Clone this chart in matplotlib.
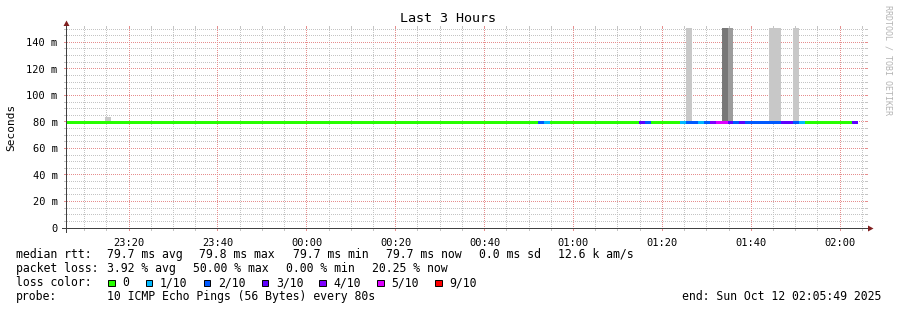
import numpy as np
import matplotlib
matplotlib.use("Agg")
import matplotlib.pyplot as plt
from matplotlib.ticker import FixedLocator, NullLocator
from matplotlib.patches import Polygon, Rectangle
from matplotlib.colors import to_rgba

# ---------------- data ----------------
title = "Last 3 Hours"
y_label = "Seconds"
watermark = "RRDTOOL / TOBI OETIKER"

# time in minutes relative to midnight (23:05:49 .. 02:05:49)
view_start_min = -(54 + 11 / 60)
view_end_min = 125 + 49 / 60
step_minutes = 80 / 60            # 80 s probe interval
first_step_start_min = -41 * step_minutes   # 23:05:20

# packet loss per 80 s step, in tenths (10 pings per step)
loss_tenths = [
    0, 0, 0, 0, 0, 0, 0, 0, 0, 0, 0, 0, 0, 0, 0, 0, 0, 0, 0, 0,
    0, 0, 0, 0, 0, 0, 0, 0, 0, 0, 0, 0, 0, 0, 0, 0, 0, 0, 0, 0,
    0, 0, 0, 0, 0, 0, 0, 0, 0, 0, 0, 0, 0, 0, 0, 0, 0, 0, 0, 0,
    0, 0, 0, 0, 0, 0, 0, 0, 0, 0, 0, 0, 0, 0, 0, 0, 0, 0, 0, 0,
    2, 1, 0, 0, 0, 0, 0, 0, 0, 0, 0, 0, 0, 0, 0, 0, 0, 3, 2, 0,
    0, 0, 0, 0, 1, 2, 2, 1, 2, 4, 5, 5, 3, 2, 3, 2, 2, 2, 2, 2,
    2, 3, 3, 2, 1, 0, 0, 0, 0, 0, 0, 0, 0, 3,
]

# median RTT per step (ms)
median_ms = [
    79.7, 79.7, 79.7, 79.7, 79.7, 79.7, 79.7, 79.7, 79.7, 79.7,
    79.7, 79.7, 79.7, 79.7, 79.7, 79.7, 79.7, 79.7, 79.7, 79.7,
    79.7, 79.7, 79.7, 79.7, 79.7, 79.7, 79.7, 79.7, 79.7, 79.7,
    79.7, 79.7, 79.7, 79.7, 79.7, 79.7, 79.7, 79.7, 79.7, 79.7,
    79.7, 79.7, 79.7, 79.7, 79.7, 79.7, 79.7, 79.7, 79.7, 79.7,
    79.7, 79.7, 79.7, 79.7, 79.7, 79.7, 79.7, 79.7, 79.7, 79.7,
    79.7, 79.7, 79.7, 79.7, 79.7, 79.7, 79.7, 79.7, 79.7, 79.7,
    79.7, 79.7, 79.7, 79.7, 79.7, 79.7, 79.7, 79.7, 79.7, 79.7,
    79.7, 79.7, 79.7, 79.7, 79.7, 79.7, 79.7, 79.7, 79.7, 79.7,
    79.7, 79.7, 79.7, 79.7, 79.7, 79.7, 79.7, 79.7, 79.7, 79.7,
    79.7, 79.7, 79.7, 79.7, 79.7, 79.7, 79.7, 79.7, 79.7, 79.8,
    79.7, 79.7, 79.7, 79.7, 79.7, 79.7, 79.7, 79.7, 79.7, 79.7,
    79.7, 79.7, 79.7, 79.7, 79.7, 79.7, 79.7, 79.7, 79.7, 79.7,
    79.7, 79.7, 79.7, 79.7,
]

# smoke (ping spread) bars: step index, low/high RTT (ms), shade
smoke_steps = [7, 105, 111, 112, 119, 120, 123]
smoke_low_ms = [79.7, 79.7, 79.7, 79.7, 79.7, 79.7, 79.7]
smoke_high_ms = [83.7, 200.0, 200.0, 200.0, 200.0, 200.0, 200.0]
smoke_shades = ["#c8c8c8", "#c8c8c8", "#787878", "#9c9c9c",
                "#c8c8c8", "#c8c8c8", "#c8c8c8"]

x_tick_minutes = [-40, -20, 0, 20, 40, 60, 80, 100, 120]
x_tick_labels = ["23:20", "23:40", "00:00", "00:20", "00:40",
                 "01:00", "01:20", "01:40", "02:00"]
y_tick_values = [0, 20, 40, 60, 80, 100, 120, 140]
y_tick_labels = ["0", "20 m", "40 m", "60 m", "80 m", "100 m", "120 m", "140 m"]

loss_thresholds = [0, 1, 2, 3, 4, 5, 9]
loss_labels = ["0", "1/10", "2/10", "3/10", "4/10", "5/10", "9/10"]
loss_colors = ["#26ff00", "#00b8ff", "#0059ff", "#5e00ff",
               "#7e00ff", "#dd00ff", "#ff0000"]

rtt_head = "median rtt:"
rtt_stats = ["79.7 ms avg", "79.8 ms max", "79.7 ms min",
             "79.7 ms now", "0.0 ms sd", "12.6 k am/s"]
loss_head = "packet loss:"
loss_stats = ["3.92 % avg", "50.00 % max", "0.00 % min", "20.25 % now"]
color_head = "loss color:"
probe_head = "probe:"
probe_text = "10 ICMP Echo Pings (56 Bytes) every 80s"
end_text = "end: Sun Oct 12 02:05:49 2025"

# ---------------- layout ----------------
W, H = 897, 310
X0, XS = 66, 800      # plot origin / width in px
Y0, YS = 228, 200     # plot origin (bottom) / height in px
y_max = 150.8
MONO = "DejaVu Sans Mono"
MINOR_COL = "#c4c4c4"
MAJOR_COL = "#e68e8e"
AXIS_COL = "#404040"
ARROW_COL = "#801f1f"
MINOR_STEP_MIN = 5
MINOR_STEP_MS = 5

fig = plt.figure(figsize=(W / 100, H / 100), dpi=100)
fig.patch.set_facecolor("white")
ax = fig.add_axes([X0 / W, 1 - Y0 / H, XS / W, YS / H])
ax.set_xlim(view_start_min, view_end_min)
ax.set_ylim(0, y_max)
ax.patch.set_alpha(0)
ax.set_zorder(2)
for s in ax.spines.values():
    s.set_visible(False)


def P(x, y):
    return (x / W, 1 - y / H)


ax.xaxis.set_major_locator(FixedLocator(x_tick_minutes))
ax.yaxis.set_major_locator(FixedLocator(y_tick_values))
ax.xaxis.set_minor_locator(NullLocator())
ax.yaxis.set_minor_locator(NullLocator())
ax.set_xticklabels(x_tick_labels)
ax.set_yticklabels(y_tick_labels)
ax.tick_params(length=0)
ax.tick_params(axis="y", pad=6.0, labelsize=7.5)
ax.tick_params(axis="x", pad=7.0, labelsize=7.5)
for lab in ax.get_xticklabels() + ax.get_yticklabels():
    lab.set_family(MONO)
    lab.set_color("black")


# ---- dotted rrdtool-style grid, rasterised pixel-exactly behind the axes ----
def xpix(m):
    return X0 + (m - view_start_min) / (view_end_min - view_start_min) * XS


def ypix(v):
    return Y0 - v / y_max * YS


grid = np.zeros((H, W, 4))


def hline(v, col):
    r = int(np.floor(ypix(v)))
    c = to_rgba(col)
    grid[r, X0 + 1:X0 + XS:2] = c
    grid[r, X0 - 2:X0] = c
    grid[r, X0 + XS:X0 + XS + 2] = c


def vline(m, col):
    cc = int(np.floor(xpix(m)))
    c = to_rgba(col)
    grid[Y0 - YS:Y0:2, cc] = c
    grid[Y0 - YS - 2:Y0 - YS, cc] = c
    grid[Y0 + 1:Y0 + 3, cc] = c


t = np.ceil(view_start_min / MINOR_STEP_MIN) * MINOR_STEP_MIN
while t < view_end_min:
    if t % 20 != 0:
        vline(t, MINOR_COL)
    t += MINOR_STEP_MIN
v = MINOR_STEP_MS
while v < y_max:
    if v % 20 != 0:
        hline(v, MINOR_COL)
    v += MINOR_STEP_MS
for v in y_tick_values[1:]:
    hline(v, MAJOR_COL)
for m in x_tick_minutes:
    vline(m, MAJOR_COL)
fig.figimage(grid, xo=0, yo=0, origin="upper", zorder=1)

# axis lines, on top of the data
axes_img = np.zeros((H, W, 4))
axes_img[Y0, X0 - 4:X0 + XS + 4] = to_rgba(AXIS_COL)
axes_img[Y0 - YS - 4:Y0 + 5, X0] = to_rgba(AXIS_COL)
fig.figimage(axes_img, xo=0, yo=0, origin="upper", zorder=5)
fig.add_artist(Polygon([P(X0 + XS + 2, Y0 - 2.5), P(X0 + XS + 2, Y0 + 3.5), P(X0 + XS + 7.5, Y0 + 0.5)],
                       closed=True, transform=fig.transFigure, color=ARROW_COL, lw=0, zorder=6))
fig.add_artist(Polygon([P(X0 - 2.5, Y0 - YS - 2), P(X0 + 3.5, Y0 - YS - 2), P(X0 + 0.5, Y0 - YS - 7.5)],
                       closed=True, transform=fig.transFigure, color=ARROW_COL, lw=0, zorder=6))

# smoke bars
starts = first_step_start_min + np.arange(len(loss_tenths)) * step_minutes
for idx, lo, hi, shade in zip(smoke_steps, smoke_low_ms, smoke_high_ms, smoke_shades):
    ax.bar(starts[idx], hi - lo, bottom=lo, width=step_minutes, align="edge",
           color=shade, linewidth=0, antialiased=False, zorder=2)


def loss_color(l):
    c = loss_colors[0]
    for th, col in zip(loss_thresholds, loss_colors):
        if l >= th:
            c = col
    return c


band = 3 * y_max / YS
colors = [loss_color(l) for l in loss_tenths]
med = np.array(median_ms)
ax.bar(starts, band, bottom=med - band / 2, width=step_minutes, align="edge",
       color=colors, linewidth=0, antialiased=False, zorder=3)

# title, labels, watermark
fig.text(*P(448, 19), title, ha="center", va="center", family=MONO, fontsize=9.6)
fig.text(*P(11, 127), y_label, ha="center", va="center", rotation=90,
         family=MONO, fontsize=8.0)
fig.text(*P(887.5, 60), watermark, ha="center", va="center", rotation=-90,
         family=MONO, fontsize=6.0, color="#b4b4b4")

# legend / statistics
FS = 8.3
row_y = [254.3, 268.3, 282.7, 296.7]
head_x = 16.0
fig.text(*P(head_x, row_y[0]), rtt_head, va="center", family=MONO, fontsize=FS)
for s, x in zip(rtt_stats, [106.6, 199.3, 292.6, 386.0, 478.6, 557.6]):
    fig.text(*P(x, row_y[0]), s, va="center", family=MONO, fontsize=FS)
fig.text(*P(head_x, row_y[1]), loss_head, va="center", family=MONO, fontsize=FS)
for s, x in zip(loss_stats, [106.6, 192.6, 286.0, 372.0]):
    fig.text(*P(x, row_y[1]), s, va="center", family=MONO, fontsize=FS)
fig.text(*P(head_x, row_y[2]), color_head, va="center", family=MONO, fontsize=FS)
for lab, col, x in zip(loss_labels, loss_colors,
                       [108.3, 145.7, 203.7, 261.7, 319.3, 377.3, 435.3]):
    x0, y0 = P(x, row_y[2] + 3.5)
    fig.add_artist(Rectangle((x0, y0), 6.5 / W, 6.5 / H, transform=fig.transFigure,
                             facecolor=col, edgecolor="black", lw=0.7))
    fig.text(*P(x + 14.3, row_y[2]), lab, va="center", family=MONO, fontsize=FS)
fig.text(*P(head_x, row_y[3]), probe_head, va="center", family=MONO, fontsize=FS)
fig.text(*P(106.6, row_y[3]), probe_text, va="center", family=MONO, fontsize=FS)
fig.text(*P(881, row_y[3]), end_text, ha="right", va="center", family=MONO, fontsize=FS)

fig.savefig("out.png", dpi=100, facecolor="white")
